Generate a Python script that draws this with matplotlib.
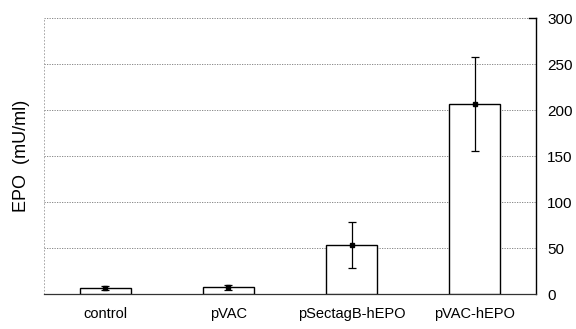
import matplotlib
matplotlib.use('Agg')
import matplotlib.pyplot as plt
import numpy as np

plt.rcParams['font.family'] = ['Liberation Sans', 'DejaVu Sans']

# Data
groups = ['control', 'pVAC', 'pSectagB-hEPO', 'pVAC-hEPO']
epo_mean = [6.5, 7.5, 53, 207]
epo_err = [2.5, 2.5, 25, 51]
y_ticks = [0, 50, 100, 150, 200, 250, 300]

fig = plt.figure(figsize=(5.76, 3.29), dpi=100)
ax = fig.add_axes([0.076, 0.106, 0.855, 0.839])

x = np.arange(len(groups))
ax.bar(x, epo_mean, width=0.41, color='white', edgecolor='black', linewidth=1.0, zorder=3)
ax.errorbar(x, epo_mean, yerr=epo_err, fmt='s', color='black', markersize=2.5,
            elinewidth=0.9, capsize=3, capthick=0.9, zorder=4)

ax.set_xlim(-0.5, len(groups) - 0.5)
ax.set_ylim(0, 300)
ax.set_xticks(x)
ax.set_xticklabels(groups, fontsize=10.5)
ax.set_yticks(y_ticks)

# Ticks and labels on the right, y label on the left
ax.yaxis.tick_right()
ax.tick_params(axis='y', labelsize=11, length=0, pad=8)
ax.tick_params(axis='x', length=0, pad=9)
ax.set_ylabel('EPO  (mU/ml)', fontsize=13)
ax.yaxis.set_label_position('left')
ax.yaxis.labelpad = 10

# Dotted gridlines
for v in y_ticks[1:]:
    ax.axhline(v, color='#777777', linewidth=0.6, linestyle=(0, (1.5, 1.5)), zorder=1)

# little tick at the top of the right axis
ax.plot([0.985, 1.0], [1.0, 1.0], transform=ax.transAxes, color='black',
        linewidth=1.0, clip_on=False, zorder=5)

ax.spines['top'].set_visible(False)
ax.spines['left'].set_linestyle((0, (1, 3)))
ax.spines['left'].set_color('#999999')
ax.spines['left'].set_linewidth(0.6)
ax.spines['right'].set_color('black')
ax.spines['right'].set_linewidth(1.0)
ax.spines['bottom'].set_color('#333333')
ax.spines['bottom'].set_linewidth(0.9)

fig.savefig('out.png', dpi=100)
